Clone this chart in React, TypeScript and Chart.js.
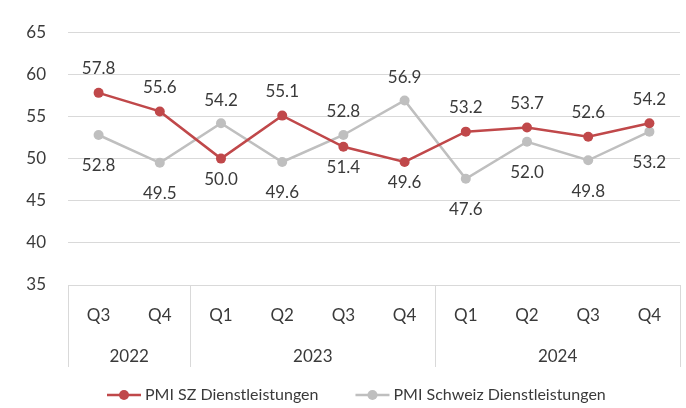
import React, { useEffect, useRef } from 'react';
import { Chart, registerables } from 'chart.js';

Chart.register(...registerables);

const quarters = ['Q3', 'Q4', 'Q1', 'Q2', 'Q3', 'Q4', 'Q1', 'Q2', 'Q3', 'Q4'];
const years = ['2022', '2023', '2024'];
const yearSpans = [2, 4, 4];
const pmiSZ = [57.8, 55.6, 50.0, 55.1, 51.4, 49.6, 53.2, 53.7, 52.6, 54.2];
const pmiCH = [52.8, 49.5, 54.2, 49.6, 52.8, 56.9, 47.6, 52.0, 49.8, 53.2];
const seriesNames = ['PMI SZ Dienstleistungen', 'PMI Schweiz Dienstleistungen'];
const yMin = 35;
const yMax = 65;
const yStep = 5;

const FONT = 'Lato, "Noto Sans", sans-serif';
const TEXT = '#3a3a3a';
const GRID = '#d9d9d9';
const RED = '#c0484a';
const GRAY = '#bfbfbf';
const colors = [RED, GRAY];

const decorPlugin = {
  id: 'decor',
  afterDatasetsDraw(chart: any) {
    const ctx = chart.ctx;
    ctx.save();
    ctx.font = `17px ${FONT}`;
    ctx.fillStyle = TEXT;
    ctx.textAlign = 'center';
    ctx.textBaseline = 'middle';
    const metas = [chart.getDatasetMeta(0), chart.getDatasetMeta(1)];
    const vals = [pmiSZ, pmiCH];
    const aboveOff = [24, 23];
    const belowOff = [21, 31];
    for (let i = 0; i < quarters.length; i++) {
      for (let s = 0; s < 2; s++) {
        const v = vals[s][i];
        const o = vals[1 - s][i];
        const pt = metas[s].data[i];
        const above = v >= o;
        const y = above ? pt.y - aboveOff[s] : pt.y + belowOff[s];
        ctx.fillText(v.toFixed(1), pt.x, y);
      }
    }
    ctx.restore();
  },
  afterDraw(chart: any) {
    const ctx = chart.ctx;
    const area = chart.chartArea;
    const xs = chart.scales.x;
    const bottom = xs.bottom;
    ctx.save();
    const bounds: number[] = [area.left];
    let idx = 0;
    yearSpans.forEach((span) => {
      idx += span;
      if (idx >= quarters.length) bounds.push(area.right);
      else bounds.push((xs.getPixelForTick(idx - 1) + xs.getPixelForTick(idx)) / 2);
    });
    ctx.strokeStyle = GRID;
    ctx.lineWidth = 1;
    bounds.forEach((bx) => {
      const px = Math.round(bx) + 0.5;
      ctx.beginPath();
      ctx.moveTo(px, area.bottom);
      ctx.lineTo(px, bottom);
      ctx.stroke();
    });
    ctx.font = `17px ${FONT}`;
    ctx.fillStyle = TEXT;
    ctx.textAlign = 'center';
    ctx.textBaseline = 'middle';
    years.forEach((yr, k) => {
      ctx.fillText(yr, (bounds[k] + bounds[k + 1]) / 2, bottom - 10);
    });
    const ly = 395;
    let lx = 107;
    ctx.font = `16px ${FONT}`;
    ctx.textAlign = 'left';
    seriesNames.forEach((name, k) => {
      ctx.strokeStyle = colors[k];
      ctx.lineWidth = 2.5;
      ctx.beginPath();
      ctx.moveTo(lx, ly);
      ctx.lineTo(lx + 34, ly);
      ctx.stroke();
      ctx.fillStyle = colors[k];
      ctx.beginPath();
      ctx.arc(lx + 17, ly, 5, 0, Math.PI * 2);
      ctx.fill();
      ctx.fillStyle = TEXT;
      ctx.fillText(name, lx + 38, ly);
      lx += 38 + ctx.measureText(name).width + 37;
    });
    ctx.restore();
  },
};

export default function App() {
  const ref = useRef<HTMLCanvasElement>(null);
  useEffect(() => {
    document.body.style.margin = '0';
    const chart = new Chart(ref.current as HTMLCanvasElement, {
      type: 'line',
      data: {
        labels: quarters,
        datasets: [
          {
            label: seriesNames[0],
            data: pmiSZ,
            borderColor: RED,
            backgroundColor: RED,
            borderWidth: 2.5,
            pointRadius: 5,
            pointHoverRadius: 5,
            pointBorderWidth: 0,
            tension: 0,
          },
          {
            label: seriesNames[1],
            data: pmiCH,
            borderColor: GRAY,
            backgroundColor: GRAY,
            borderWidth: 2.5,
            pointRadius: 5,
            pointHoverRadius: 5,
            pointBorderWidth: 0,
            tension: 0,
          },
        ],
      },
      options: {
        animation: false,
        responsive: false,
        devicePixelRatio: 1,
        layout: { padding: { top: 23, right: 6, bottom: 41, left: 0 } },
        plugins: {
          legend: { display: false },
          tooltip: { enabled: false },
        },
        scales: {
          x: {
            offset: true,
            grid: { display: false },
            border: { display: false },
            ticks: { color: TEXT, font: { family: FONT, size: 17 }, padding: 12, maxRotation: 0 },
            afterFit: (s: any) => {
              s.height = 82;
            },
          },
          y: {
            min: yMin,
            max: yMax,
            grid: { color: GRID, lineWidth: 1, drawTicks: false },
            border: { display: false },
            ticks: { stepSize: yStep, color: TEXT, font: { family: FONT, size: 17 }, padding: 22 },
            afterFit: (s: any) => {
              s.width = 68;
            },
          },
        },
      },
      plugins: [decorPlugin],
    });
    return () => chart.destroy();
  }, []);
  return <canvas ref={ref} width={686} height={408} style={{ display: 'block' }} />;
}
